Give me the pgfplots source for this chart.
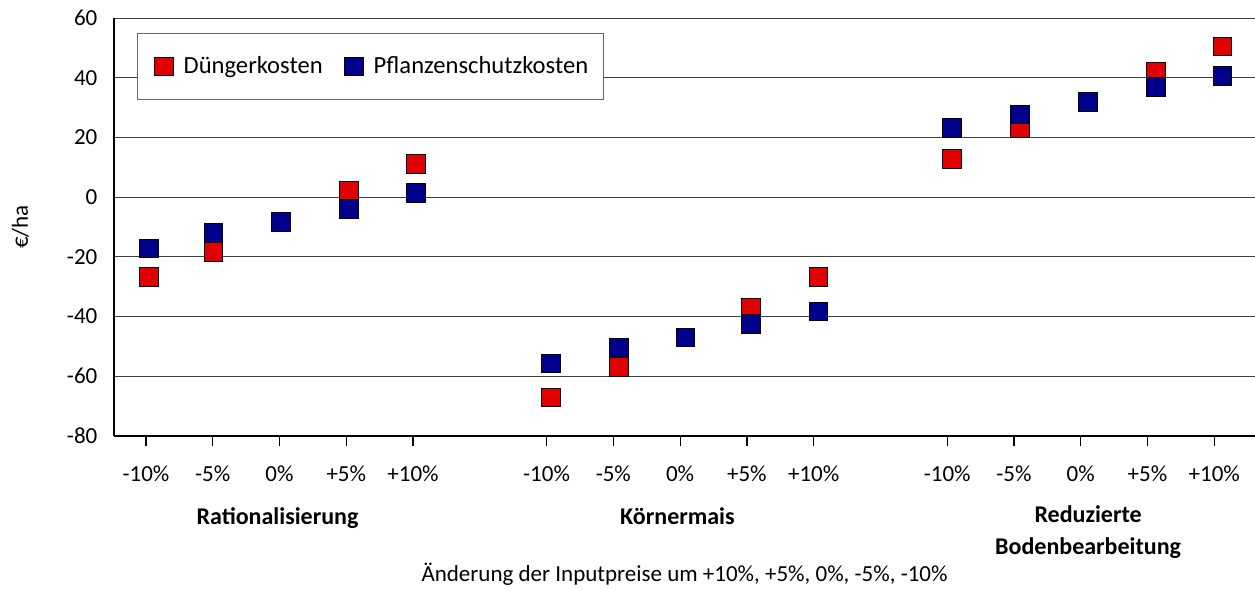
\documentclass[border=0pt]{standalone}
\usepackage{fontspec}
\setmainfont{Carlito}
\usepackage{pgfplots}
\pgfplotsset{compat=1.18}
\definecolor{dred}{RGB}{224,0,0}
\definecolor{dblue}{RGB}{0,0,140}
\pgfplotstableread{
x y
0.045 -26.7
1.01 -18.4
2.02 -8.3
3.04 2.1
4.04 11.1
6.06 -67.1
7.08 -56.9
8.08 -47.0
9.06 -37.1
10.07 -26.7
12.07 12.8
13.09 23.2
14.11 32.0
15.12 41.9
16.12 50.5
}\duenger
\pgfplotstableread{
x y
0.045 -17.2
1.01 -12.0
2.02 -8.3
3.04 -4.0
4.04 1.4
6.06 -55.7
7.08 -50.3
8.08 -47.0
9.06 -42.5
10.07 -38.3
12.07 23.3
13.09 27.7
14.11 32.0
15.12 36.9
16.12 40.7
}\pflanzen
\begin{document}
\fontsize{11.5}{13.8}\selectfont
\begin{tikzpicture}
\begin{axis}[
  scale only axis, width=570.5pt, height=209pt,
  xmin=-0.479, xmax=16.61, ymin=-80, ymax=60,
  axis lines*=left,
  axis line style={black, line width=0.7pt},
  ytick={-80,-60,-40,-20,0,20,40,60},
  yticklabels={-80,-60,-40,-20,0,20,40,60},
  ymajorgrids, grid style={black!75, line width=0.5pt},
  xtick={0,1,2,3,4,6,7,8,9,10,12,13,14,15,16},
  xticklabels={-10\%,-5\%,0\%,+5\%,+10\%,-10\%,-5\%,0\%,+5\%,+10\%,-10\%,-5\%,0\%,+5\%,+10\%},
  tick align=outside, major tick length=5pt,
  ytick style={draw=none},
  xtick style={black, line width=0.6pt},
  tick label style={font=\fontsize{11.5}{13.8}\selectfont},
  yticklabel style={xshift=0.7pt},
  xticklabel style={anchor=base, yshift=-18pt},
  ylabel={€/ha},
  ylabel style={at={(axis description cs:-0.082,0.5)}, anchor=center, font=\fontsize{11.5}{13.8}\selectfont},
  xlabel={Änderung der Inputpreise um +10\%, +5\%, 0\%, -5\%, -10\%},
  xlabel style={at={(axis description cs:0.5,-0.348)}, anchor=base, font=\fontsize{11.5}{13.8}\selectfont},
  legend columns=2,
  legend style={at={(axis description cs:0.0202,0.964)}, anchor=north west,
    draw=black!60, fill=white, line width=0.6pt, inner xsep=5.5pt, inner ysep=9.25pt,
    font=\fontsize{12.3}{14.8}\selectfont,
    /tikz/every even column/.append style={column sep=6pt}},
  legend image code/.code={\draw[#1] plot coordinates {(7.75pt,0pt)}; \path[draw=none] (0pt,0pt) -- (15.5pt,0pt);},
  clip=false,
]
\addplot[only marks, mark=square*, mark size=4.7pt, mark options={fill=dred, draw=black, line width=0.4pt}] table[x=x,y=y] {\duenger};
\addlegendentry{Düngerkosten}
\addplot[only marks, mark=square*, mark size=4.7pt, mark options={fill=dblue, draw=black, line width=0.4pt}] table[x=x,y=y] {\pflanzen};
\addlegendentry{Pflanzenschutzkosten}
\node[anchor=base, font=\fontsize{12}{14.4}\selectfont\bfseries, yshift=-44.5pt] at (axis cs:1.97,-80) {Rationalisierung};
\node[anchor=base, font=\fontsize{12}{14.4}\selectfont\bfseries, yshift=-44.5pt] at (axis cs:7.96,-80) {Körnermais};
\node[anchor=base, font=\fontsize{12}{14.4}\selectfont\bfseries, yshift=-43.5pt] at (axis cs:14.11,-80) {Reduzierte};
\node[anchor=base, font=\fontsize{12}{14.4}\selectfont\bfseries, yshift=-59.5pt] at (axis cs:14.11,-80) {Bodenbearbeitung};
\end{axis}
\pgfresetboundingbox
\path ([xshift=-57pt,yshift=-77pt]current axis.south west) rectangle ([yshift=9pt]current axis.north east);
\end{tikzpicture}
\end{document}
